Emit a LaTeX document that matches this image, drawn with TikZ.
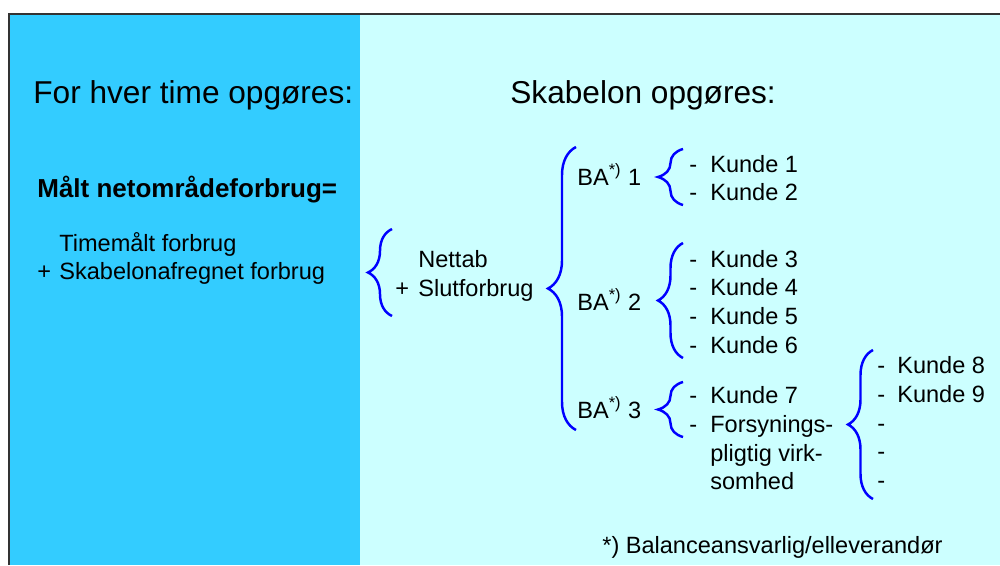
\documentclass[tikz,border=0pt]{standalone}
\usepackage{fontspec}
\setmainfont{Liberation Sans}
\usepackage{xcolor}
\usepackage{tikz}
\usetikzlibrary{decorations.pathreplacing}
\definecolor{hourblue}{HTML}{33CCFF}
\definecolor{profilecyan}{HTML}{CCFFFF}

\begin{document}
\begin{tikzpicture}[
    x=0.02cm, y=-0.02cm,
    every node/.style={inner sep=0pt, anchor=base west},
    head label/.style={font=\fontsize{18}{21}\selectfont},
    item label/.style={font=\fontsize{13.4}{16}\selectfont},
    sum label/.style={font=\bfseries\fontsize{14.8}{17}\selectfont},
    group brace/.style={draw=blue, line width=1.4pt, decorate, decoration={brace, amplitude=#1}},
    group brace/.default=0.5cm
]
    \useasboundingbox (0,0) rectangle (1000,565);

    % --- PANELS (Background) ---
    \fill[hourblue] (9,14) rectangle (360,565);
    \fill[profilecyan] (360,14) rectangle (1000,565);
    \draw[black!80, line width=0.8pt] (9,565) -- (9,14) -- (1000,14);

    % --- HEADINGS ---
    \node[head label] (hourhead) at (33,103) {For hver time opgøres:};
    \node[head label] (profhead) at (510,103) {Skabelon opgøres:};

    % --- LEFT PANEL: metered consumption ---
    \node[sum label] (maalt) at (37,197) {Målt netområdeforbrug=};
    \node[item label] (timem) at (59,251) {Timemålt forbrug};
    \node[item label] (plus1) at (37,279) {+};
    \node[item label] (skabf) at (59,279) {Skabelonafregnet forbrug};

    % --- RIGHT PANEL: grid loss + end use ---
    \node[item label] (nettab) at (418,267) {Nettab};
    \node[item label] (plus2) at (395,296) {+};
    \node[item label] (slut) at (418,296) {Slutforbrug};

    % Balance responsible parties
    \node[item label] (ba1) at (577,185) {BA\textsuperscript{*)} 1};
    \node[item label] (ba2) at (577,310) {BA\textsuperscript{*)} 2};
    \node[item label] (ba3) at (577,418) {BA\textsuperscript{*)} 3};

    % Customers of BA 1
    \node[item label] (d1) at (689,172) {-};
    \node[item label] (k1) at (710,172) {Kunde 1};
    \node[item label] (d2) at (689,200) {-};
    \node[item label] (k2) at (710,200) {Kunde 2};

    % Customers of BA 2
    \node[item label] (d3) at (689,267) {-};
    \node[item label] (k3) at (710,267) {Kunde 3};
    \node[item label] (d4) at (689,295) {-};
    \node[item label] (k4) at (710,295) {Kunde 4};
    \node[item label] (d5) at (689,324) {-};
    \node[item label] (k5) at (710,324) {Kunde 5};
    \node[item label] (d6) at (689,353) {-};
    \node[item label] (k6) at (710,353) {Kunde 6};

    % Customers of BA 3
    \node[item label] (d7) at (689,403) {-};
    \node[item label] (k7) at (710,403) {Kunde 7};
    \node[item label] (dfor) at (689,432) {-};
    \node[item label] (fors1) at (710,432) {Forsynings-};
    \node[item label] (fors2) at (710,461) {pligtig virk-};
    \node[item label] (fors3) at (710,489) {somhed};

    % Customers of the supplier of last resort
    \node[item label] (d8) at (877,373) {-};
    \node[item label] (k8) at (897,373) {Kunde 8};
    \node[item label] (d9) at (877,402) {-};
    \node[item label] (k9) at (897,402) {Kunde 9};
    \node[item label] (d10) at (877,431) {-};
    \node[item label] (d11) at (877,459) {-};
    \node[item label] (d12) at (877,488) {-};

    % --- BRACES ---
    \coordinate (netTop) at (392,229);
    \coordinate (netBot) at (392,316);
    \coordinate (baTop) at (576,147);
    \coordinate (baBot) at (576,430);
    \coordinate (c1Top) at (683,149);
    \coordinate (c1Bot) at (683,205);
    \coordinate (c2Top) at (683,243);
    \coordinate (c2Bot) at (683,358);
    \coordinate (c3Top) at (683,382);
    \coordinate (c3Bot) at (683,437);
    \coordinate (c4Top) at (873,350);
    \coordinate (c4Bot) at (873,499);

    \draw[group brace=0.48cm] (netBot) -- (netTop);
    \draw[group brace=0.56cm] (baBot) -- (baTop);
    \draw[group brace] (c1Bot) -- (c1Top);
    \draw[group brace] (c2Bot) -- (c2Top);
    \draw[group brace] (c3Bot) -- (c3Top);
    \draw[group brace] (c4Bot) -- (c4Top);

    % --- FOOTNOTE ---
    \node[item label] (fnote) at (602,553) {*) Balanceansvarlig/elleverandør};

\end{tikzpicture}
\end{document}
